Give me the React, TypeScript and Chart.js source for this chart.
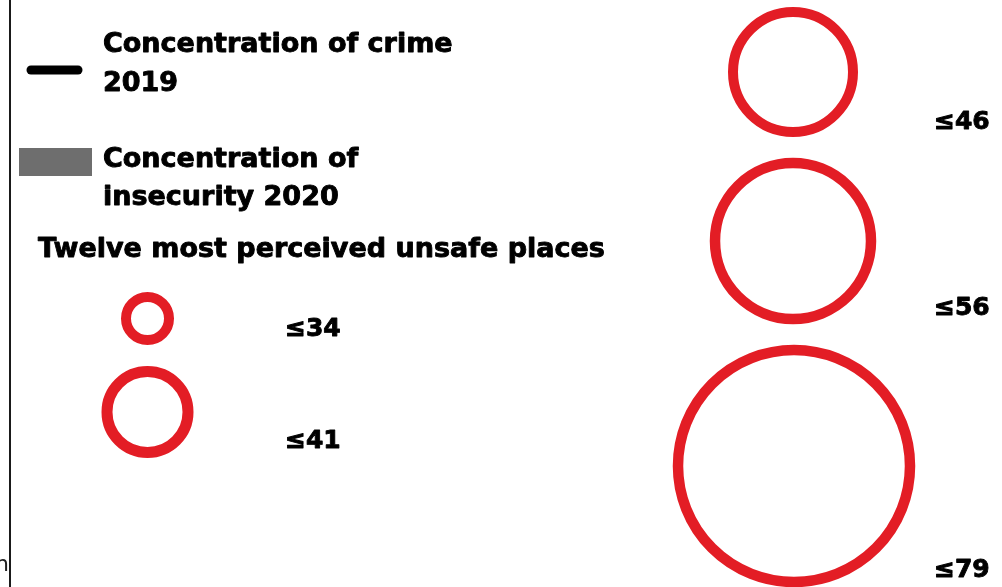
import React, { useEffect, useRef } from "react";
import { Chart, registerables } from "chart.js";

Chart.register(...registerables);

// ---- data ----
const thresholdLabels = ["≤34", "≤41", "≤46", "≤56", "≤79"];
const thresholdValues = [34, 41, 46, 56, 79];
const legendTitles = ["Concentration of crime", "2019"];
const legendTitles2 = ["Concentration of", "insecurity 2020"];
const sectionTitle = "Twelve most perceived unsafe places";

// ---- layout / style (not data) ----
const ringX = [147.5, 147.5, 793, 793, 794];
const ringY = [318.5, 412, 72, 241, 466];
const ringRadius = [21.5, 40.5, 60, 78, 116];
const ringWidth = [10, 11, 10, 10.5, 10.5];
const labelX = [285, 285, 934, 934, 934];
const labelY = [336, 448, 129, 315, 577];
const RED = "#e31d25";
const FONT = "'DejaVu Sans', sans-serif";

function heavyText(ctx: CanvasRenderingContext2D, t: string, x: number, y: number) {
  ctx.lineWidth = 0.9;
  ctx.lineJoin = "round";
  ctx.strokeText(t, x, y);
  ctx.fillText(t, x, y);
}

const decorPlugin = {
  id: "decor",
  afterDraw(chart: any) {
    const ctx = chart.ctx as CanvasRenderingContext2D;
    ctx.save();
    // left frame line
    ctx.fillStyle = "#1a1a1a";
    ctx.fillRect(9, 0, 2, 587);
    // clipped letter
    ctx.fillStyle = "#222";
    ctx.font = `22px ${FONT}`;
    ctx.textAlign = "right";
    ctx.textBaseline = "alphabetic";
    ctx.fillText("n", 9, 571);

    // line symbol
    ctx.strokeStyle = "#000";
    ctx.lineWidth = 9;
    ctx.lineCap = "round";
    ctx.beginPath();
    ctx.moveTo(31, 70);
    ctx.lineTo(78, 70);
    ctx.stroke();
    // gray rect symbol
    ctx.fillStyle = "#6e6e6e";
    ctx.fillRect(19, 148, 73, 28);

    ctx.fillStyle = "#000";
    ctx.strokeStyle = "#000";
    ctx.textAlign = "left";
    ctx.font = `bold 27px ${FONT}`;
    heavyText(ctx, legendTitles[0], 103, 52);
    heavyText(ctx, legendTitles[1], 103, 91);
    heavyText(ctx, legendTitles2[0], 103, 167);
    heavyText(ctx, legendTitles2[1], 103, 205);
    heavyText(ctx, sectionTitle, 38, 257);

    ctx.font = `bold 25px ${FONT}`;
    thresholdLabels.forEach((t, i) => {
      heavyText(ctx, t, labelX[i], labelY[i]);
    });
    ctx.restore();
  },
};

export default function App() {
  const ref = useRef<HTMLCanvasElement>(null);
  useEffect(() => {
    document.body.style.margin = "0";
    const chart = new Chart(ref.current!, {
      type: "bubble",
      data: {
        datasets: [
          {
            label: "Perceived unsafe places",
            data: thresholdValues.map((v, i) => ({ x: ringX[i], y: ringY[i], r: ringRadius[i], v })) as any,
            backgroundColor: "rgba(0,0,0,0)",
            borderColor: RED,
            borderWidth: ringWidth as any,
            hoverBorderWidth: ringWidth as any,
            clip: false as any,
          },
        ],
      },
      options: {
        responsive: false,
        animation: false,
        devicePixelRatio: 1,
        layout: { padding: 0, autoPadding: false },
        plugins: { legend: { display: false }, tooltip: { enabled: false } },
        events: [],
        scales: {
          x: { type: "linear", min: 0, max: 1002, display: false },
          y: { type: "linear", min: 0, max: 587, reverse: true, display: false },
        },
      },
      plugins: [decorPlugin],
    });
    return () => chart.destroy();
  }, []);
  return (
    <div style={{ width: 1002, height: 587, background: "#fff" }}>
      <canvas ref={ref} width={1002} height={587} style={{ display: "block" }} />
    </div>
  );
}
